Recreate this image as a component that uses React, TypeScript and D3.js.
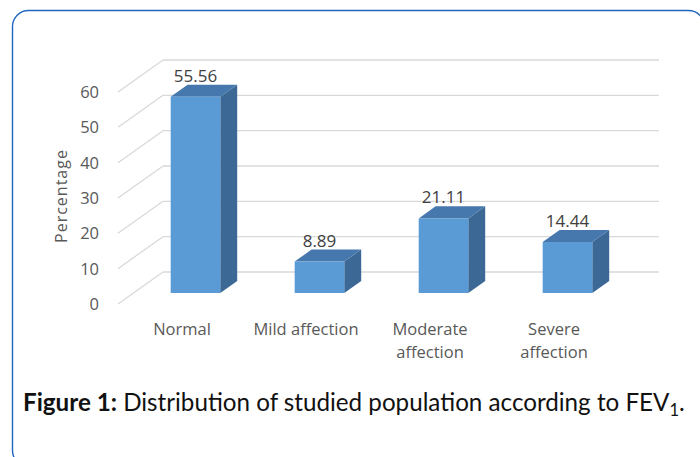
import React from 'react';
import * as d3 from 'd3';

const categories = ['Normal', 'Mild affection', 'Moderate affection', 'Severe affection'];
const categoryLines = [['Normal'], ['Mild affection'], ['Moderate', 'affection'], ['Severe', 'affection']];
const values = [55.56, 8.89, 21.11, 14.44];
const yTicks = [0, 10, 20, 30, 40, 50, 60];

const W = 700;
const H = 457;

// back wall of the 3-D plot
const wall = { x0: 163, x1: 659, y0: 272, y1: 60 };
// floor depth: front edge is offset from back wall
const depth = { dx: -45, dy: 32 };
// bar sits between these depth fractions
const barFront = 0.656;
const barBack = 0.28;

const gray = '#595959';
const font = '"Open Sans", sans-serif';

export default function App() {
  const y = d3.scaleLinear().domain([0, 60]).range([wall.y0, wall.y1]);
  const x = d3.scaleBand<string>().domain(categories).range([wall.x0, wall.x1]).paddingInner(0.6).paddingOuter(0.3);
  const xc = d3.scaleBand<string>().domain(categories).range([wall.x0, wall.x1]);

  const proj = (px: number, py: number, f: number) => [px + depth.dx * f, py + depth.dy * f];

  return (
    <svg width={W} height={H} style={{ position: 'absolute', left: 0, top: 0 }}>
      <rect x={0} y={0} width={W} height={H} fill="#fff" />
      <rect x={12.5} y={10.5} width={692} height={456} rx={16} fill="none" stroke="#1e66c0" strokeWidth={1.4} />

      {/* gridlines: back wall + left wall diagonals */}
      {yTicks.map((t) => {
        const [fx, fy] = proj(wall.x0, y(t), 1);
        return (
          <g key={t}>
            <line x1={wall.x0} x2={wall.x1} y1={y(t)} y2={y(t)} stroke="#d9d9d9" strokeWidth={1.3} />
            <line x1={fx} y1={fy} x2={wall.x0} y2={y(t)} stroke="#d9d9d9" strokeWidth={1.3} />
            <text x={fx - 19} y={fy + 6} textAnchor="end" fontFamily={font} fontSize={16.5} fill={gray}>
              {t}
            </text>
          </g>
        );
      })}

      <text
        transform={`translate(67,196) rotate(-90)`}
        textAnchor="middle"
        fontFamily={font}
        fontSize={16}
        letterSpacing={1}
        fill={gray}
      >
        Percentage
      </text>

      {/* bars */}
      {categories.map((c, i) => {
        const v = values[i];
        const bx0 = x(c)!;
        const bx1 = bx0 + x.bandwidth();
        const [l, b] = proj(bx0, y(0), barFront);
        const [r] = proj(bx1, y(0), barFront);
        const [, t] = proj(bx0, y(v), barFront);
        const ddx = depth.dx * (barBack - barFront);
        const ddy = depth.dy * (barBack - barFront);
        const front = `M${l},${t}H${r}V${b}H${l}Z`;
        const side = `M${r},${t}L${r + ddx},${t + ddy}V${b + ddy}L${r},${b}Z`;
        const top = `M${l},${t}L${l + ddx},${t + ddy}H${r + ddx}L${r},${t}Z`;
        return (
          <g key={c}>
            <path d={side} fill="#3b6894" />
            <path d={top} fill="#4677ad" />
            <path d={front} fill="#5b9bd5" />
            <text x={(l + r) / 2} y={t - 15} textAnchor="middle" fontFamily={font} fontSize={17} fill="#404040">
              {v.toFixed(2)}
            </text>
          </g>
        );
      })}

      {/* category labels on the front floor edge */}
      {categories.map((c, i) => {
        const [cx] = proj(xc(c)! + xc.bandwidth() / 2, y(0), 1);
        return (
          <text key={c} x={cx + 2} y={335} textAnchor="middle" fontFamily={font} fontSize={16.5} fill={gray}>
            {categoryLines[i].map((ln, j) => (
              <tspan key={j} x={cx + 2} dy={j === 0 ? 0 : 23}>
                {ln}
              </tspan>
            ))}
          </text>
        );
      })}

      <text x={23} y={411} fontFamily="Lato, sans-serif" fontSize={24.2} fill="#111">
        <tspan fontWeight="bold">Figure 1:</tspan>
        <tspan> Distribution of studied population according to FEV</tspan>
        <tspan fontSize={16.5} dy={5}>1</tspan>
        <tspan dy={-5}>.</tspan>
      </text>
    </svg>
  );
}
